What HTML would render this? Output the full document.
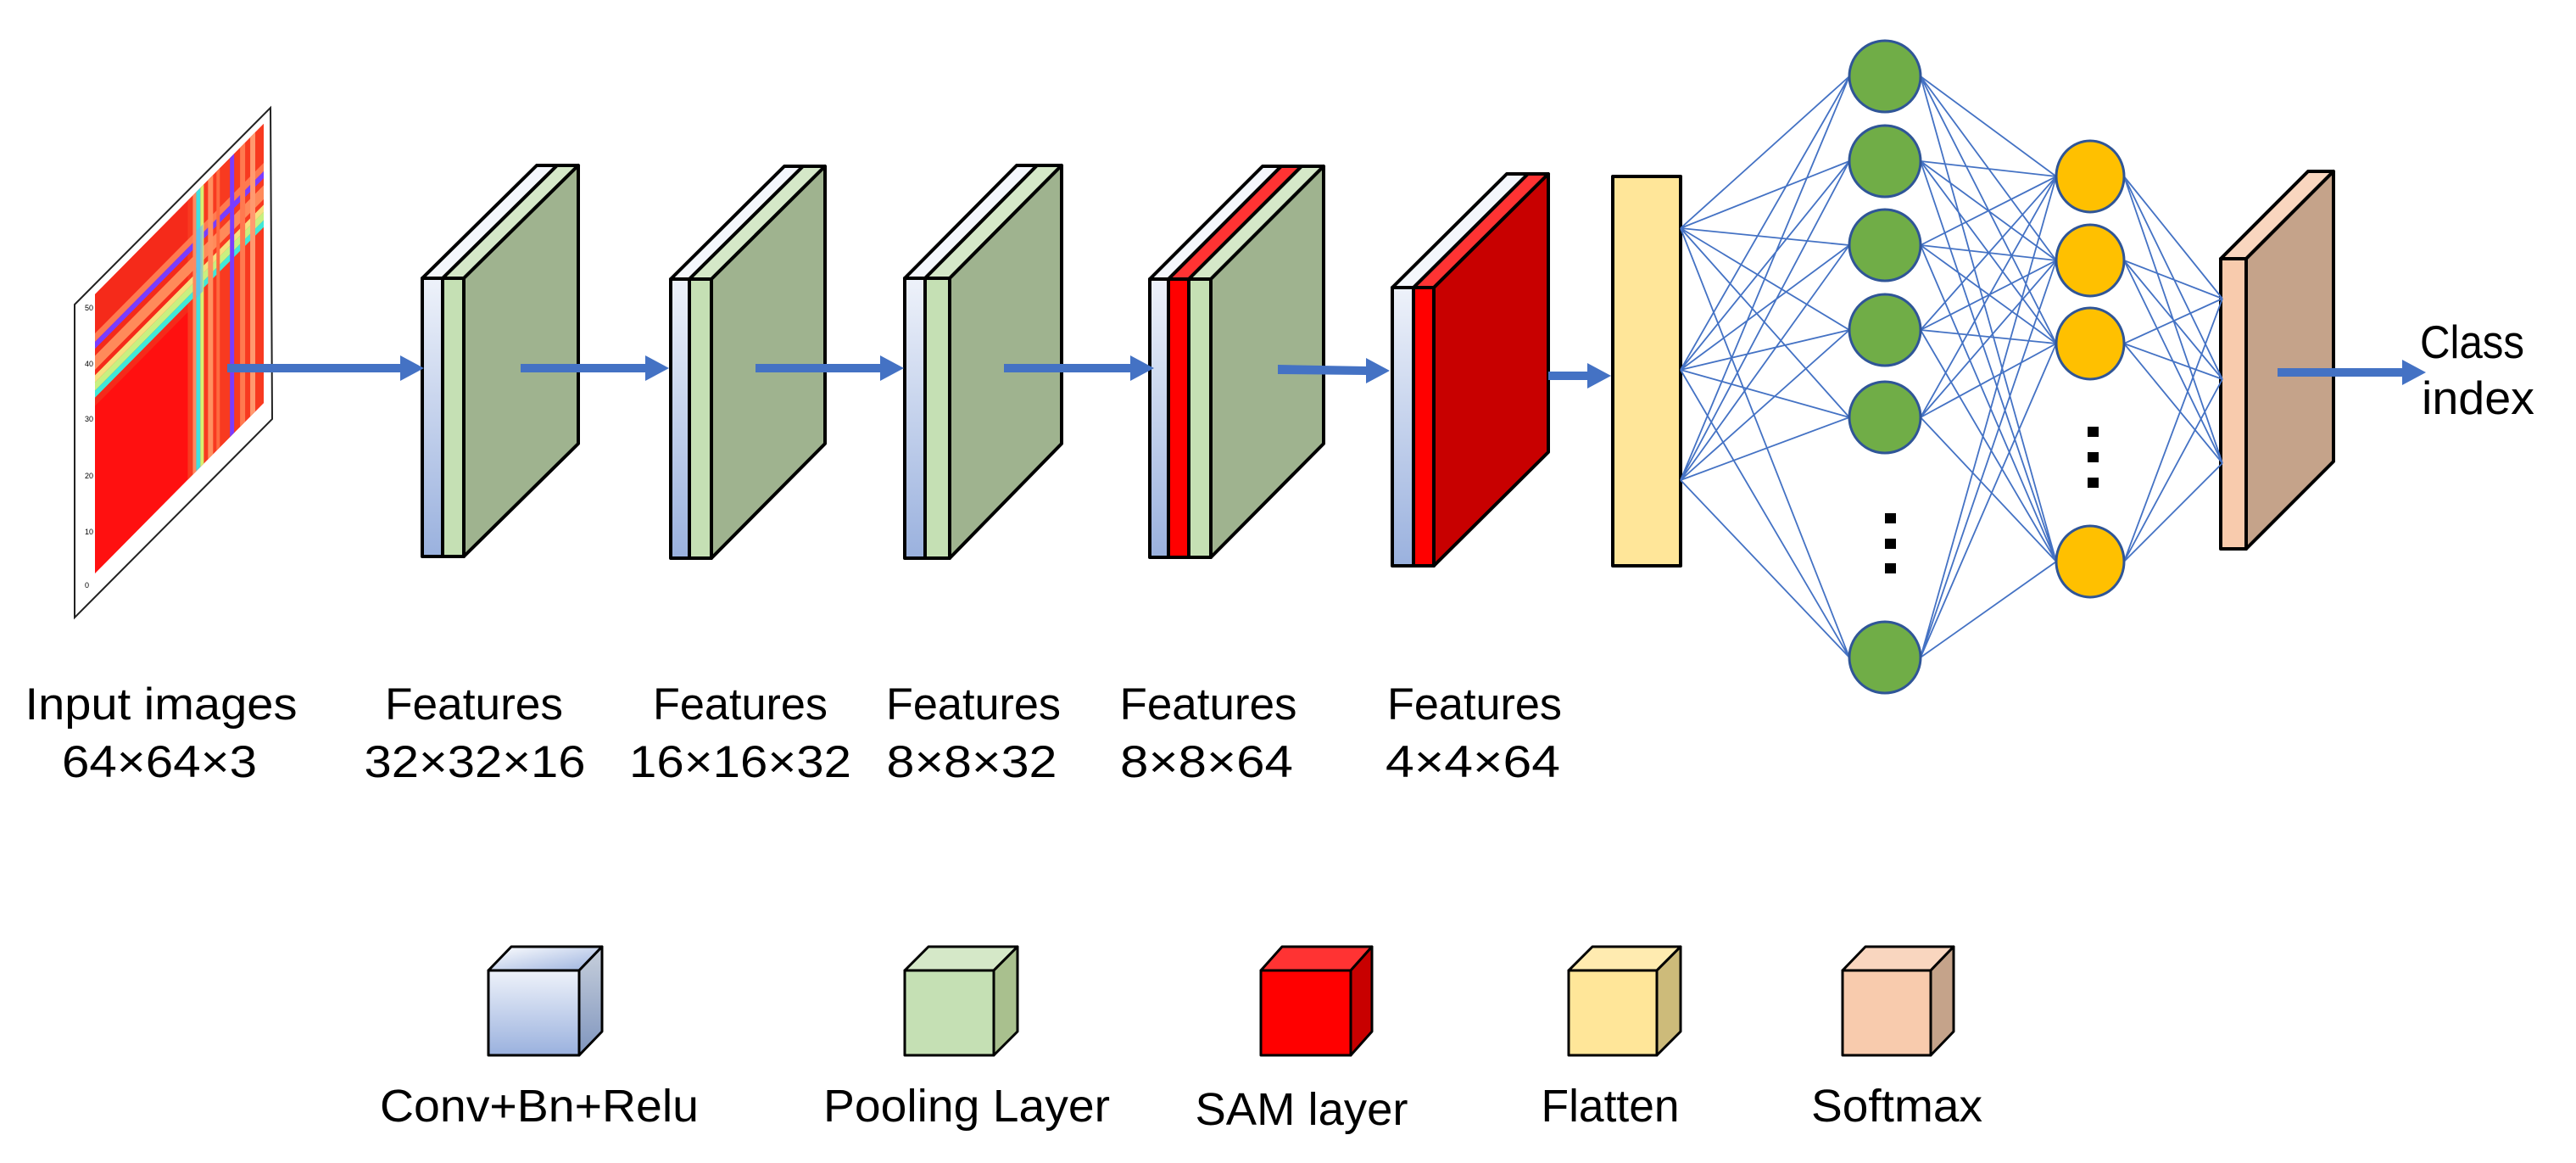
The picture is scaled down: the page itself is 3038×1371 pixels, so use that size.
<!DOCTYPE html>
<html><head><meta charset="utf-8"><style>
html,body{margin:0;padding:0;background:#fff;}
svg{display:block;}
text{font-family:"Liberation Sans",sans-serif;fill:#000;}
</style></head><body>
<svg width="3038" height="1371" viewBox="0 0 3038 1371" xmlns="http://www.w3.org/2000/svg">
<defs>
<linearGradient id="cv" x1="0" y1="0" x2="0" y2="1"><stop offset="0" stop-color="#EEF2FA"/><stop offset="1" stop-color="#9AB1DE"/></linearGradient>
<linearGradient id="cvl" x1="0" y1="0" x2="1" y2="1"><stop offset="0" stop-color="#FFFFFF"/><stop offset="1" stop-color="#9AB1DE"/></linearGradient>
<linearGradient id="cvs" x1="0" y1="0" x2="0" y2="1"><stop offset="0" stop-color="#C8D0DC"/><stop offset="1" stop-color="#7F95BE"/></linearGradient>
</defs>
<rect width="3038" height="1371" fill="#fff"/>

<!-- Input image -->
<polygon points="88,359 319,127 321,494 88,728" fill="#fff" stroke="#222" stroke-width="2"/>
<g transform="matrix(1.99,-2.01,0,3.29,112,347)">
<rect x="0" y="0" width="100" height="100" fill="#FF1010"/>
<rect x="0" y="0" width="100" height="40" fill="#F52A1A"/>
<rect x="55" y="0" width="45" height="100" fill="#F83A20"/>
<rect x="0" y="14" width="100" height="3" fill="#FF7A50"/>
<rect x="0" y="17" width="100" height="2.5" fill="#7A3CFF"/>
<rect x="0" y="22" width="100" height="5" fill="#FF8A5A"/>
<rect x="0" y="29" width="100" height="2.5" fill="#F7E080"/>
<rect x="0" y="31.5" width="100" height="3" fill="#C8F080"/>
<rect x="0" y="34.5" width="100" height="2.5" fill="#40E8D8"/>
<rect x="58" y="0" width="2" height="100" fill="#FF8A60"/>
<rect x="60" y="0" width="2.5" height="100" fill="#40E0E0"/>
<rect x="62.5" y="0" width="2" height="100" fill="#D8F070"/>
<rect x="67" y="0" width="3" height="100" fill="#FF9060"/>
<rect x="72" y="0" width="2" height="100" fill="#FF6A40"/>
<rect x="80" y="0" width="2.5" height="100" fill="#7A3CFF"/>
<rect x="86" y="0" width="3" height="100" fill="#FF7A50"/>
<rect x="92" y="0" width="3" height="100" fill="#FF9A70"/>
<rect x="60" y="14" width="4" height="24" fill="#70B0F0" opacity="0.6"/>
</g>
<g font-size="9" fill="#666">
<text x="100" y="693" fill="#777">0</text><text x="100" y="630" fill="#777">10</text><text x="100" y="564" fill="#777">20</text><text x="100" y="497" fill="#777">30</text><text x="100" y="432" fill="#777">40</text><text x="100" y="366" fill="#777">50</text>
</g>

<g stroke="#000" stroke-width="4" stroke-linejoin="round">
<!-- Block1 -->
<polygon points="498,328 522,328 657,195 633,195" fill="#F4F7FC"/>
<polygon points="522,328 547,328 682,195 657,195" fill="#D5E8C8"/>
<polygon points="547,328 682,195 682,523 547,656" fill="#9FB38F"/>
<rect x="498" y="328" width="24" height="328" fill="url(#cv)"/>
<rect x="522" y="328" width="25" height="328" fill="#C5E0B4"/>
<!-- Block2 -->
<polygon points="791,329 813,329 947,196 925,196" fill="#F4F7FC"/>
<polygon points="813,329 839,329 973,196 947,196" fill="#D5E8C8"/>
<polygon points="839,329 973,196 973,523 839,658" fill="#9FB38F"/>
<rect x="791" y="329" width="22" height="329" fill="url(#cv)"/>
<rect x="813" y="329" width="26" height="329" fill="#C5E0B4"/>
<!-- Block3 -->
<polygon points="1067,328 1091,328 1223,195 1199,195" fill="#F4F7FC"/>
<polygon points="1091,328 1120,328 1252,195 1223,195" fill="#D5E8C8"/>
<polygon points="1120,328 1252,195 1252,523 1120,658" fill="#9FB38F"/>
<rect x="1067" y="328" width="24" height="330" fill="url(#cv)"/>
<rect x="1091" y="328" width="29" height="330" fill="#C5E0B4"/>
<!-- Block4 -->
<polygon points="1356,329 1378,329 1511,196 1489,196" fill="#F4F7FC"/>
<polygon points="1378,329 1402,329 1535,196 1511,196" fill="#FF3333"/>
<polygon points="1402,329 1428,329 1561,196 1535,196" fill="#D5E8C8"/>
<polygon points="1428,329 1561,196 1561,523 1428,657" fill="#9FB38F"/>
<rect x="1356" y="329" width="22" height="328" fill="url(#cv)"/>
<rect x="1378" y="329" width="24" height="328" fill="#FF0000"/>
<rect x="1402" y="329" width="26" height="328" fill="#C5E0B4"/>
<!-- Block5 -->
<polygon points="1642,339 1667,339 1802,205 1777,205" fill="#F4F7FC"/>
<polygon points="1667,339 1691,339 1826,205 1802,205" fill="#FF3333"/>
<polygon points="1691,339 1826,205 1826,533 1691,667" fill="#C80000"/>
<rect x="1642" y="339" width="25" height="328" fill="url(#cv)"/>
<rect x="1667" y="339" width="24" height="328" fill="#FF0000"/>
<!-- Flatten -->
<rect x="1902" y="208" width="80" height="459" fill="#FFE699"/>
<!-- Softmax block -->
<polygon points="2619,305 2649,305 2752,202 2722,202" fill="#F9D6BF"/>
<polygon points="2649,305 2752,202 2752,544 2649,647" fill="#C5A38A"/>
<rect x="2619" y="305" width="30" height="342" fill="#F8CBAD"/>
</g>

<!-- arrows (drawn on top of blocks) -->
<g fill="#4472C4">
<polygon points="268,429 472,429 472,419 500,434 472,449 472,439 268,439"/>
<polygon points="614,429 761,429 761,419 789,434 761,449 761,439 614,439"/>
<polygon points="891,429 1038,429 1038,419 1066,434 1038,449 1038,439 891,439"/>
<polygon points="1184,429 1333,429 1333,419 1361,434 1333,449 1333,439 1184,439"/>
<polygon points="1507,430 1611,432 1611,422 1639,437 1611,452 1611,442 1507,441"/>
<polygon points="1826,438 1872,438 1872,428 1900,443 1872,458 1872,448 1826,448"/>
<polygon points="2686,434 2833,434 2833,424 2861,439 2833,454 2833,444 2686,444"/>
</g>

<!-- connections -->
<path fill="none" stroke="#4472C4" stroke-width="1.8" d="
M1982 269L2181 90M1982 269L2181 190M1982 269L2181 289M1982 269L2181 389M1982 269L2181 492M1982 269L2181 775
M1982 436L2181 90M1982 436L2181 190M1982 436L2181 289M1982 436L2181 389M1982 436L2181 492M1982 436L2181 775
M1982 566L2181 90M1982 566L2181 190M1982 566L2181 289M1982 566L2181 389M1982 566L2181 492M1982 566L2181 775
M2265 90L2425 208M2265 90L2425 307M2265 90L2425 405M2265 90L2425 662
M2265 190L2425 208M2265 190L2425 307M2265 190L2425 405M2265 190L2425 662
M2265 289L2425 208M2265 289L2425 307M2265 289L2425 405M2265 289L2425 662
M2265 389L2425 208M2265 389L2425 307M2265 389L2425 405M2265 389L2425 662
M2265 492L2425 208M2265 492L2425 307M2265 492L2425 405M2265 492L2425 662
M2265 775L2425 208M2265 775L2425 307M2265 775L2425 405M2265 775L2425 662
M2505 208L2621 352M2505 208L2621 447M2505 208L2621 546
M2505 307L2621 352M2505 307L2621 447M2505 307L2621 546
M2505 405L2621 352M2505 405L2621 447M2505 405L2621 546
M2505 662L2621 352M2505 662L2621 447M2505 662L2621 546"/>

<!-- neurons -->
<g fill="#70AD47" stroke="#2F5597" stroke-width="3">
<ellipse cx="2223" cy="90" rx="42" ry="42"/>
<ellipse cx="2223" cy="190" rx="42" ry="42"/>
<ellipse cx="2223" cy="289" rx="42" ry="42"/>
<ellipse cx="2223" cy="389" rx="42" ry="42"/>
<ellipse cx="2223" cy="492" rx="42" ry="42"/>
<ellipse cx="2223" cy="775" rx="42" ry="42"/>
</g>
<g fill="#FFC000" stroke="#2F5597" stroke-width="3">
<ellipse cx="2465" cy="208" rx="40" ry="42"/>
<ellipse cx="2465" cy="307" rx="40" ry="42"/>
<ellipse cx="2465" cy="405" rx="40" ry="42"/>
<ellipse cx="2465" cy="662" rx="40" ry="42"/>
</g>
<g fill="#000">
<rect x="2223" y="605" width="13" height="12"/><rect x="2223" y="635" width="13" height="12"/><rect x="2223" y="664" width="13" height="12"/>
<rect x="2462" y="503" width="13" height="12"/><rect x="2462" y="533" width="13" height="12"/><rect x="2462" y="563" width="13" height="12"/>
</g>

<!-- labels -->
<g font-size="53" text-anchor="middle">
<text x="190" y="848" textLength="321" lengthAdjust="spacingAndGlyphs">Input images</text>
<text x="188" y="916" textLength="230" lengthAdjust="spacingAndGlyphs">64×64×3</text>
<text x="559" y="848" textLength="210" lengthAdjust="spacingAndGlyphs">Features</text>
<text x="560" y="916" textLength="261" lengthAdjust="spacingAndGlyphs">32×32×16</text>
<text x="873" y="848" textLength="206" lengthAdjust="spacingAndGlyphs">Features</text>
<text x="873" y="916" textLength="262" lengthAdjust="spacingAndGlyphs">16×16×32</text>
<text x="1148" y="848" textLength="206" lengthAdjust="spacingAndGlyphs">Features</text>
<text x="1146" y="916" textLength="201" lengthAdjust="spacingAndGlyphs">8×8×32</text>
<text x="1425" y="848" textLength="209" lengthAdjust="spacingAndGlyphs">Features</text>
<text x="1423" y="916" textLength="204" lengthAdjust="spacingAndGlyphs">8×8×64</text>
<text x="1739" y="848" textLength="206" lengthAdjust="spacingAndGlyphs">Features</text>
<text x="1737" y="916" textLength="206" lengthAdjust="spacingAndGlyphs" fill="#333">4×4×64</text>
</g>
<g font-size="55">
<text x="2854" y="422" textLength="123" lengthAdjust="spacingAndGlyphs">Class</text>
<text x="2856" y="488" textLength="133" lengthAdjust="spacingAndGlyphs">index</text>
</g>

<!-- legend -->
<g stroke="#000" stroke-width="3" stroke-linejoin="round">
<polygon points="576,1144 683,1144 710,1116 603,1116" fill="url(#cvl)"/>
<polygon points="683,1144 710,1116 710,1216 683,1244" fill="url(#cvs)"/>
<rect x="576" y="1144" width="107" height="100" fill="url(#cv)"/>
<polygon points="1067,1144 1172,1144 1200,1116 1095,1116" fill="#D5E8C8"/>
<polygon points="1172,1144 1200,1116 1200,1216 1172,1244" fill="#A9C08E"/>
<rect x="1067" y="1144" width="105" height="100" fill="#C5E0B4"/>
<polygon points="1487,1144 1593,1144 1618,1116 1512,1116" fill="#FF3333"/>
<polygon points="1593,1144 1618,1116 1618,1216 1593,1244" fill="#C80000"/>
<rect x="1487" y="1144" width="106" height="100" fill="#FF0000"/>
<polygon points="1850,1144 1954,1144 1982,1116 1878,1116" fill="#FFEBB0"/>
<polygon points="1954,1144 1982,1116 1982,1216 1954,1244" fill="#CDBB7A"/>
<rect x="1850" y="1144" width="104" height="100" fill="#FFE699"/>
<polygon points="2173,1144 2277,1144 2304,1116 2200,1116" fill="#F9D6BF"/>
<polygon points="2277,1144 2304,1116 2304,1216 2277,1244" fill="#C5A38A"/>
<rect x="2173" y="1144" width="104" height="100" fill="#F8CBAD"/>
</g>
<g font-size="54" text-anchor="middle">
<text x="636" y="1322" textLength="376" lengthAdjust="spacingAndGlyphs">Conv+Bn+Relu</text>
<text x="1140" y="1322" textLength="338" lengthAdjust="spacingAndGlyphs">Pooling Layer</text>
<text x="1535" y="1326" textLength="251" lengthAdjust="spacingAndGlyphs">SAM layer</text>
<text x="1899" y="1322" textLength="163" lengthAdjust="spacingAndGlyphs">Flatten</text>
<text x="2237" y="1322" textLength="202" lengthAdjust="spacingAndGlyphs">Softmax</text>
</g>
</svg>
</body></html>
